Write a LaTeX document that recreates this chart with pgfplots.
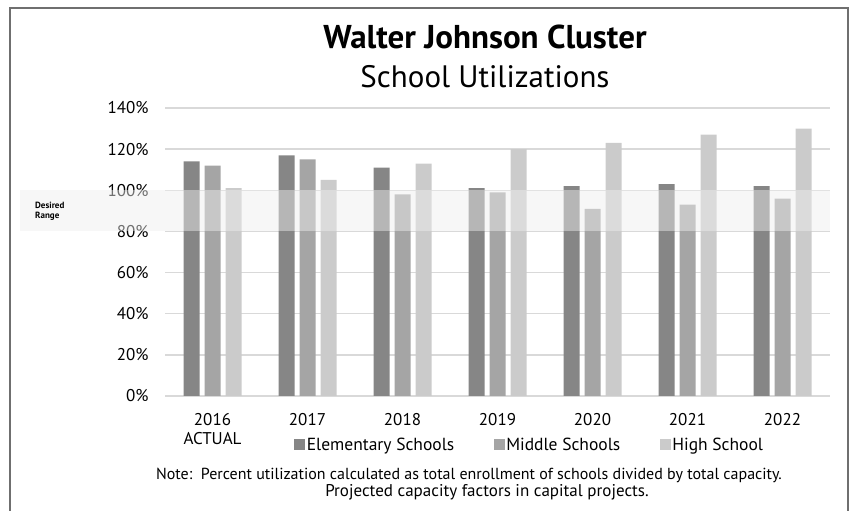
\documentclass[border=0pt]{standalone}
\usepackage{pgfplots}
\pgfplotsset{compat=1.18}
\usepackage{fontspec}
\setmainfont{PT Sans}
\definecolor{elem}{HTML}{868686}
\definecolor{mid}{HTML}{A5A5A5}
\definecolor{high}{HTML}{CBCBCB}
\definecolor{gridc}{HTML}{D9D9D9}
\definecolor{bandc}{HTML}{EEEEEE}
\definecolor{framec}{HTML}{6F6F6F}
\begin{document}
\begin{tikzpicture}[x=1bp,y=1bp]
\useasboundingbox (0,0) rectangle (851,511);
\draw[framec, line width=2bp] (10,0) -- (10,503) -- (848,503) -- (848,0);
\begin{axis}[
    at={(165bp,115bp)}, anchor=south west,
    scale only axis, width=665bp, height=288bp,
    ybar=5bp, bar width=16bp,
    xmin=-0.5, xmax=6.5, ymin=0, ymax=140,
    ytick={0,20,...,140},
    yticklabel={\pgfmathprintnumber{\tick}\%},
    xtick={0,...,6},
    xticklabels={{2016\\ACTUAL},2017,2018,2019,2020,2021,2022},
    x tick label style={align=center, font=\fontsize{17bp}{19bp}\selectfont, yshift=-14bp},
    y tick label style={font=\fontsize{17bp}{19bp}\selectfont, xshift=-13bp},
    /pgf/number format/assume math mode=true,
    major tick length=0pt,
    axis line style={draw=none},
    ymajorgrids, grid style={gridc, line width=1.5bp},
    clip=false,
    legend style={at={(0.548,-0.170)}, anchor=center, draw=none, fill=none,
        legend columns=3, font=\fontsize{17.5bp}{19bp}\selectfont,
        /tikz/every even column/.append style={column sep=38bp},
        nodes={inner sep=1.5bp}},
    legend image code/.code={\fill[#1] (0bp,-5.5bp) rectangle (11bp,5.5bp);},
]
\addplot[fill=elem, draw=none] coordinates {(0,114) (1,117) (2,111) (3,101) (4,102) (5,103) (6,102)};
\addplot[fill=mid, draw=none] coordinates {(0,112) (1,115) (2,98) (3,99) (4,91) (5,93) (6,96)};
\addplot[fill=high, draw=none] coordinates {(0,101) (1,105) (2,113) (3,120) (4,123) (5,127) (6,130)};
\legend{Elementary Schools, Middle Schools, High School}
\fill[bandc, fill opacity=0.47] (axis cs:-2.03,80) rectangle (axis cs:6.5,100);
\node[anchor=west, align=left, font=\fontsize{9bp}{10bp}\selectfont\bfseries, xshift=12bp]
    at (axis cs:-2.03,90) {Desired\\Range};
\end{axis}
\node[anchor=base, font=\fontsize{33bp}{36bp}\selectfont\bfseries] at (485,462) {Walter Johnson Cluster};
\node[anchor=base, font=\fontsize{31bp}{34bp}\selectfont] at (485,423) {School Utilizations};
\node[anchor=base, font=\fontsize{16bp}{18bp}\selectfont] at (469,31) {Note:\ \ Percent utilization calculated as total enrollment of schools divided by total capacity.};
\node[anchor=base, font=\fontsize{17bp}{18bp}\selectfont] at (487,14) {Projected capacity factors in capital projects.};
\end{tikzpicture}
\end{document}
